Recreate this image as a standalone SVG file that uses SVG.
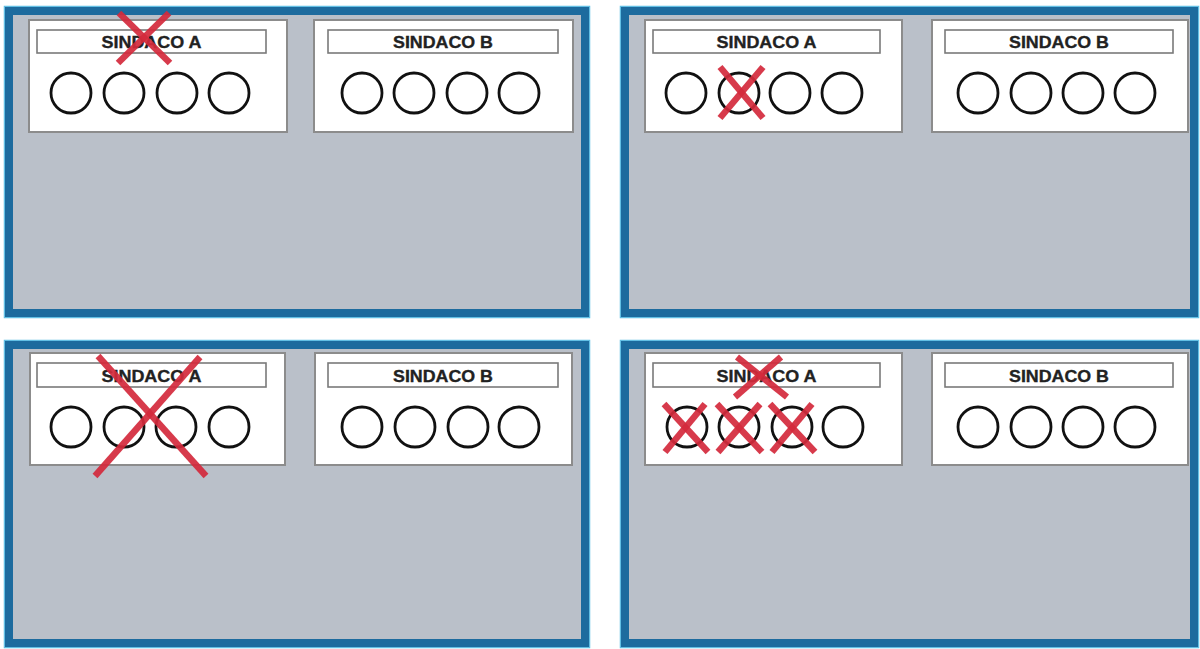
<svg xmlns="http://www.w3.org/2000/svg" width="1200" height="649" viewBox="0 0 1200 649">
<style>
.panel{fill:#bac0c9;stroke:#1d6b9e;stroke-width:8}
.glow{fill:none;stroke:#62bfe4;stroke-width:1.5}
.card{fill:#ffffff;stroke:#8c8c8c;stroke-width:2}
.lbl{fill:#ffffff;stroke:#7a7a7a;stroke-width:1.6}
.txt{font-family:"Liberation Sans",Arial,sans-serif;font-weight:bold;font-size:17px;fill:#222222;stroke:#222222;stroke-width:0.35;text-anchor:middle}
.c{fill:none;stroke:#111111;stroke-width:2.8}
.x{stroke:#d42a3c;stroke-width:6.5;stroke-linecap:butt;opacity:0.92}
</style>
<rect width="1200" height="649" fill="#ffffff"/>

<g id="panel1">
<rect class="glow" x="4.5" y="6.5" width="585" height="311"/>
<rect class="panel" x="9" y="11" width="576" height="302"/>
<g id="p1-cardA">
<rect class="card" x="29" y="20" width="258" height="112"/>
<rect class="lbl" x="37" y="30" width="229" height="23"/>
<text class="txt" x="151.5" y="48" textLength="100" lengthAdjust="spacingAndGlyphs">SINDACO A</text>
<circle class="c" cx="71" cy="93" r="20"/><circle class="c" cx="124" cy="93" r="20"/><circle class="c" cx="177" cy="93" r="20"/><circle class="c" cx="229" cy="93" r="20"/>
</g>
<g id="p1-cardB">
<rect class="card" x="314" y="20" width="259" height="112"/>
<rect class="lbl" x="328" y="30" width="230" height="23"/>
<text class="txt" x="443" y="48" textLength="100" lengthAdjust="spacingAndGlyphs">SINDACO B</text>
<circle class="c" cx="362" cy="93" r="20"/><circle class="c" cx="414" cy="93" r="20"/><circle class="c" cx="467" cy="93" r="20"/><circle class="c" cx="519" cy="93" r="20"/>
</g>
<g id="p1-mark">
<line class="x" x1="119" y1="13" x2="170" y2="63"/>
<line class="x" x1="169" y1="13" x2="118" y2="63"/>
</g>
</g>

<g id="panel2">
<rect class="glow" x="620.5" y="6.5" width="578" height="311"/>
<rect class="panel" x="625" y="11" width="569" height="302"/>
<g id="p2-cardA">
<rect class="card" x="645" y="20" width="257" height="112"/>
<rect class="lbl" x="653" y="30" width="227" height="23"/>
<text class="txt" x="766.5" y="48" textLength="100" lengthAdjust="spacingAndGlyphs">SINDACO A</text>
<circle class="c" cx="686" cy="93" r="20"/><circle class="c" cx="739" cy="93" r="20"/><circle class="c" cx="790" cy="93" r="20"/><circle class="c" cx="842" cy="93" r="20"/>
</g>
<g id="p2-cardB">
<rect class="card" x="932" y="20" width="256" height="112"/>
<rect class="lbl" x="945" y="30" width="228" height="23"/>
<text class="txt" x="1059" y="48" textLength="100" lengthAdjust="spacingAndGlyphs">SINDACO B</text>
<circle class="c" cx="978" cy="93" r="20"/><circle class="c" cx="1031" cy="93" r="20"/><circle class="c" cx="1083" cy="93" r="20"/><circle class="c" cx="1135" cy="93" r="20"/>
</g>
<g id="p2-mark">
<line class="x" x1="720" y1="67" x2="763" y2="118"/>
<line class="x" x1="763" y1="67" x2="720" y2="118"/>
</g>
</g>

<g id="panel3">
<rect class="glow" x="4.5" y="340.5" width="585" height="307"/>
<rect class="panel" x="9" y="345" width="576" height="298"/>
<g id="p3-cardA">
<rect class="card" x="30" y="353" width="255" height="112"/>
<rect class="lbl" x="37" y="363" width="229" height="24"/>
<text class="txt" x="151.5" y="381.5" textLength="100" lengthAdjust="spacingAndGlyphs">SINDACO A</text>
<circle class="c" cx="71" cy="427" r="20"/><circle class="c" cx="124" cy="427" r="20"/><circle class="c" cx="176" cy="427" r="20"/><circle class="c" cx="229" cy="427" r="20"/>
</g>
<g id="p3-cardB">
<rect class="card" x="315" y="353" width="257" height="112"/>
<rect class="lbl" x="328" y="363" width="230" height="24"/>
<text class="txt" x="443" y="381.5" textLength="100" lengthAdjust="spacingAndGlyphs">SINDACO B</text>
<circle class="c" cx="362" cy="427" r="20"/><circle class="c" cx="415" cy="427" r="20"/><circle class="c" cx="468" cy="427" r="20"/><circle class="c" cx="519" cy="427" r="20"/>
</g>
<g id="p3-mark">
<line class="x" x1="98" y1="356" x2="206" y2="476"/>
<line class="x" x1="200" y1="357" x2="95" y2="476"/>
</g>
</g>

<g id="panel4">
<rect class="glow" x="620.5" y="340.5" width="578" height="307"/>
<rect class="panel" x="625" y="345" width="569" height="298"/>
<g id="p4-cardA">
<rect class="card" x="645" y="353" width="257" height="112"/>
<rect class="lbl" x="653" y="363" width="227" height="24"/>
<text class="txt" x="766.5" y="381.5" textLength="100" lengthAdjust="spacingAndGlyphs">SINDACO A</text>
<circle class="c" cx="687" cy="427" r="20"/><circle class="c" cx="739" cy="427" r="20"/><circle class="c" cx="792" cy="427" r="20"/><circle class="c" cx="843" cy="427" r="20"/>
</g>
<g id="p4-cardB">
<rect class="card" x="932" y="353" width="256" height="112"/>
<rect class="lbl" x="945" y="363" width="228" height="24"/>
<text class="txt" x="1059" y="381.5" textLength="100" lengthAdjust="spacingAndGlyphs">SINDACO B</text>
<circle class="c" cx="978" cy="427" r="20"/><circle class="c" cx="1031" cy="427" r="20"/><circle class="c" cx="1083" cy="427" r="20"/><circle class="c" cx="1135" cy="427" r="20"/>
</g>
<g id="p4-mark">
<line class="x" x1="737" y1="357" x2="787" y2="397"/>
<line class="x" x1="781" y1="357" x2="735" y2="397"/>
<line class="x" x1="664" y1="404" x2="708" y2="452"/>
<line class="x" x1="705" y1="404" x2="665" y2="452"/>
<line class="x" x1="717" y1="404" x2="762" y2="452"/>
<line class="x" x1="760" y1="404" x2="718" y2="452"/>
<line class="x" x1="770" y1="404" x2="815" y2="452"/>
<line class="x" x1="812" y1="404" x2="772" y2="452"/>
</g>
</g>
</svg>
